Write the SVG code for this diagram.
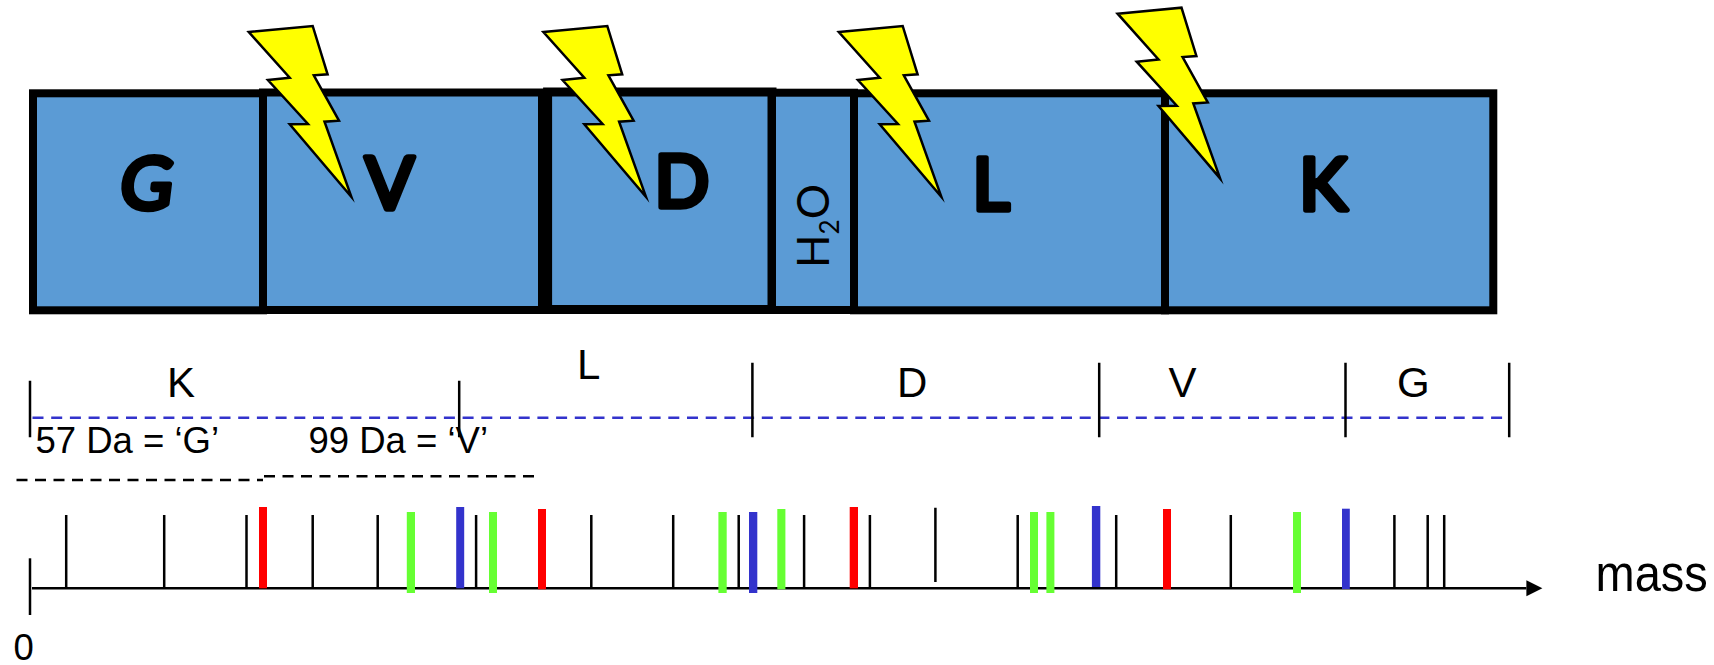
<svg xmlns="http://www.w3.org/2000/svg" width="1714" height="665" viewBox="0 0 1714 665">
<style>
.box{fill:#5B9BD5;stroke:#000;stroke-width:8}
.bolt{fill:#FFFF00;stroke:#000;stroke-width:2.5;stroke-miterlimit:10}
.res{font-family:"Lato","Noto Sans",sans-serif;font-weight:400;font-size:72px;fill:#000;stroke:#000;stroke-width:5.5;stroke-linejoin:round;text-anchor:middle}
.h2o{font-family:"Lato","Noto Sans",sans-serif;font-size:44px;fill:#000}
.lab{font-family:"Liberation Sans",Arial,sans-serif;font-size:42px;fill:#000}
.mid{font-family:"Liberation Sans",Arial,sans-serif;font-size:36.5px;fill:#000}
.tick{stroke:#000;stroke-width:2.5;fill:none}
.bd{stroke:#3333CC;stroke-width:2.5;stroke-dasharray:11 7.7;fill:none}
.kd{stroke:#000;stroke-width:2.5;stroke-dasharray:11 7.5;fill:none}
.r{fill:#FF0000}.g{fill:#66FF33}.b{fill:#3333CC}
</style>
<defs>
<polygon id="bolt" class="bolt" points="248.8,32 312.7,26 327.6,74.3 313.8,75.3 339,120.7 324.5,121.7 351.3,196.7 289.7,124.3 308,124 267.9,80 289.7,77.7"/>
<marker id="arrow" markerUnits="userSpaceOnUse" markerWidth="18" markerHeight="18" refX="0" refY="8" orient="auto"><polygon points="0,0 16,8 0,16" fill="#000"/></marker>
</defs>
<g id="residue-G"><rect class="box" x="33" y="93.3" width="230" height="217"/><text class="res" transform="translate(144,209) skewX(-7)">G</text></g>
<g id="residue-V"><rect class="box" x="263" y="92.5" width="279" height="217.5"/><text class="res" x="389.5" y="209">V</text></g>
<g id="residue-D"><rect class="box" x="547.6" y="92" width="224.4" height="217.5" style="stroke-width:9"/><text class="res" x="682" y="207">D</text></g>
<g id="water"><rect class="box" x="772" y="92.7" width="82" height="217.3"/><text class="h2o" transform="translate(829,268) rotate(-90)">H<tspan font-size="26" dy="10">2</tspan><tspan dy="-10">O</tspan></text></g>
<g id="residue-L"><rect class="box" x="854" y="93.3" width="311" height="217"/><text class="res" x="991" y="210">L</text></g>
<g id="residue-K"><rect class="box" x="1165" y="93.3" width="328.3" height="217"/><text class="res" x="1323" y="210">K</text></g>
<g id="bolts">
<use href="#bolt"/>
<use href="#bolt" x="294.6"/>
<use href="#bolt" x="590"/>
<use href="#bolt" x="868.8" y="-18.3"/>
</g>
<g id="labels">
<text class="lab" x="167" y="396.7">K</text>
<text class="lab" x="577" y="379.3">L</text>
<text class="lab" x="897" y="396.7">D</text>
<text class="lab" x="1168.5" y="396.7">V</text>
<text class="lab" x="1397" y="396.7">G</text>
<text class="mid" x="35.5" y="452.5">57 Da = ‘G’</text>
<text class="mid" x="308.5" y="452.5">99 Da = ‘V’</text>
<text class="mid" x="13.5" y="659.5">0</text>
<text class="mid" transform="translate(1595.5,591) scale(1,1.12)" style="font-size:47px">mass</text>
</g>
<g id="connectors">
<path class="bd" d="M32.5 417.7H1508"/>
<path class="kd" d="M16.5 480H263"/>
<path class="kd" d="M264 476.3H536"/>
<path class="tick" d="M30 380.7V437.3M459.2 380.7V437.3M752.4 362.7V437.3M1099.2 362.7V437.3M1345.5 362.7V437.3M1509.2 362.7V437.3"/>
<path class="tick" d="M30 558.3V615"/>
<path class="tick" d="M32 588.3H1526.4" marker-end="url(#arrow)"/>
<path class="tick" d="M66.2 515V588M164.2 515V588M246.5 515V588M312.7 515V588M377.7 515V588M476.1 515V588M591.3 515V588M673.2 515V588M738.7 515V588M804.1 515V588M869.9 515V588M935.4 507.7V582M1017.7 515V588M1116.2 515V588M1230.8 515V588M1394.4 515V588M1427.7 515V588M1444.2 515V588"/>
</g>
<g id="peaks">
<rect class="r" x="259" y="507" width="8" height="81.3"/>
<rect class="g" x="406.8" y="512" width="8.2" height="81"/>
<rect class="b" x="456.2" y="507" width="8" height="81.3"/>
<rect class="g" x="489" y="512" width="8" height="81"/>
<rect class="r" x="538" y="509" width="8" height="80.3"/>
<rect class="g" x="718.4" y="512" width="8.3" height="81"/>
<rect class="b" x="749" y="512" width="8.3" height="81"/>
<rect class="g" x="777.3" y="509" width="8.1" height="80.3"/>
<rect class="r" x="849.7" y="507" width="8.3" height="81.3"/>
<rect class="g" x="1030" y="512" width="8" height="81"/>
<rect class="g" x="1046.4" y="512" width="8" height="81"/>
<rect class="b" x="1091.9" y="506" width="8.4" height="81"/>
<rect class="r" x="1163" y="509" width="8" height="80.3"/>
<rect class="g" x="1293" y="512" width="8" height="81"/>
<rect class="b" x="1342" y="508.7" width="7.8" height="80.3"/>
</g>
</svg>
